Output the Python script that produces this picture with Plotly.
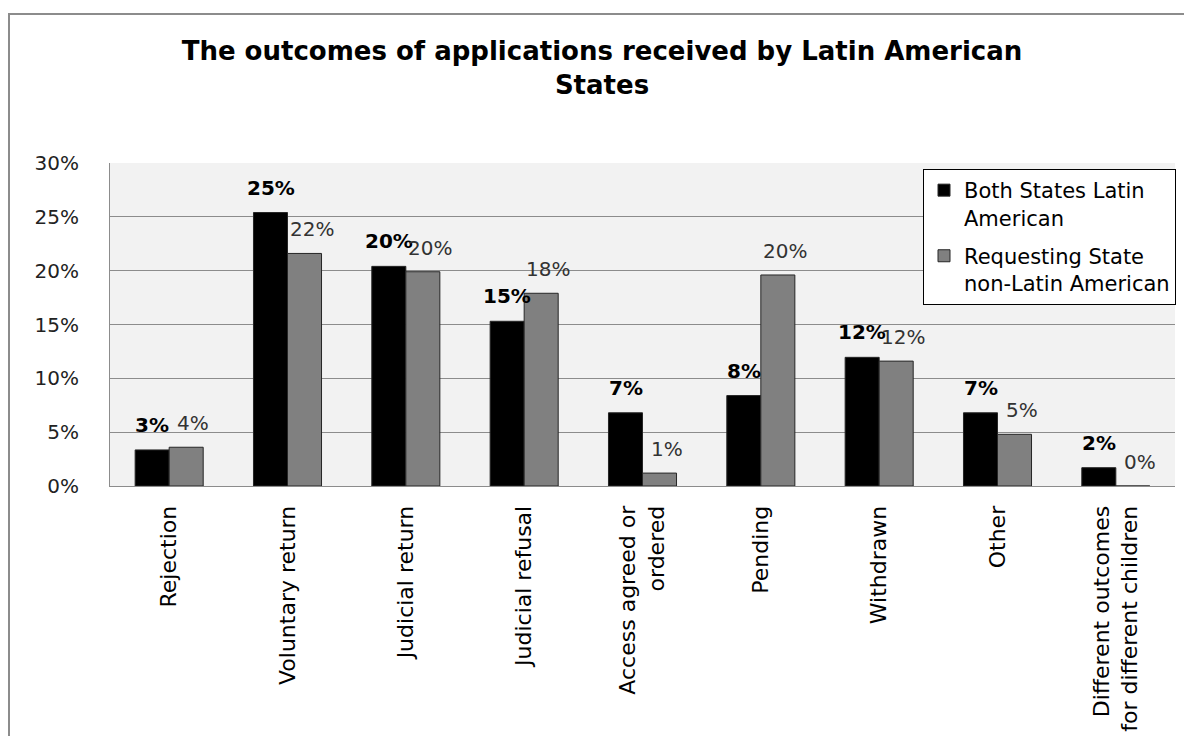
import plotly.graph_objects as go

categories = [
    "Rejection",
    "Voluntary return",
    "Judicial return",
    "Judicial refusal",
    "Access agreed or<br>ordered",
    "Pending",
    "Withdrawn",
    "Other",
    "Different outcomes<br>for different children",
]
both_latin = [3.35, 25.4, 20.4, 15.3, 6.8, 8.4, 11.95, 6.8, 1.7]
requesting_non_latin = [3.6, 21.6, 19.9, 17.9, 1.2, 19.6, 11.6, 4.8, 0.0]
series_names = ["Both States Latin<br>American", "Requesting State<br>non-Latin American"]
y_ticks = [0, 5, 10, 15, 20, 25, 30]
y_tick_labels = ["0%", "5%", "10%", "15%", "20%", "25%", "30%"]
title_text = "The outcomes of applications received by Latin American<br>States"

FONT = "DejaVu Sans"

fig = go.Figure()
fig.add_trace(go.Bar(
    x=categories, y=both_latin, name=series_names[0], legendgroup="a",
    marker=dict(color="#000000", line=dict(color="#262626", width=1)),
))
fig.add_trace(go.Bar(
    x=categories, y=requesting_non_latin, name=series_names[1], legendgroup="b",
    marker=dict(color="#808080", line=dict(color="#262626", width=1)),
))

annotations = []
for c, v in zip(categories, both_latin):
    annotations.append(dict(
        x=c, y=v, xref="x", yref="y", text=f"<b>{round(v)}%</b>",
        showarrow=False, xshift=-17, yshift=25, yanchor="middle",
        font=dict(family=FONT, size=20, color="#000000"),
    ))
for c, v in zip(categories, requesting_non_latin):
    annotations.append(dict(
        x=c, y=v, xref="x", yref="y", text=f"{round(v)}%",
        showarrow=False, xshift=24, yshift=24, yanchor="middle",
        font=dict(family=FONT, size=20, color="#333333"),
    ))

L, R, T, B = 110, 1175, 163, 486
W, H = R - L, B - T
def px_x(p):
    return (p - L) / W
def px_y(p):
    return (B - p) / H

fig.update_layout(
    width=1184, height=736,
    margin=dict(l=L, r=1184 - R, t=T, b=736 - B, pad=0, autoexpand=False),
    paper_bgcolor="#ffffff",
    plot_bgcolor="#f2f2f2",
    barmode="group",
    bargap=0.425,
    bargroupgap=0,
    title=dict(
        text=f"<b>{title_text}</b>",
        x=602 / 1184, xanchor="center",
        y=1 - 60 / 736, yanchor="top", yref="container",
        font=dict(family=FONT, size=26, color="#000000"),
    ),
    xaxis=dict(
        tickangle=-90,
        automargin=False,
        tickfont=dict(family=FONT, size=22, color="#000000"),
        showline=True, linecolor="#8c8c8c", linewidth=1,
        ticks="outside", ticklen=10, tickcolor="rgba(0,0,0,0)",
        showgrid=False,
    ),
    yaxis=dict(
        range=[0, 30],
        automargin=False,
        tickvals=y_ticks, ticktext=y_tick_labels,
        tickfont=dict(family=FONT, size=20, color="#222222"),
        showgrid=True, gridcolor="#8c8c8c", gridwidth=1,
        showline=True, linecolor="#8c8c8c", linewidth=1,
        ticks="outside", ticklen=26, tickcolor="rgba(0,0,0,0)",
        zeroline=False,
    ),
    legend=dict(
        x=px_x(923), y=px_y(169), xanchor="left", yanchor="top",
        bgcolor="#ffffff", bordercolor="#000000", borderwidth=1,
        font=dict(family=FONT, size=21, color="#000000"),
        valign="top", itemwidth=30,
        traceorder="grouped", tracegroupgap=8,
    ),
    annotations=annotations,
    shapes=[dict(
        type="rect", xref="paper", yref="paper",
        x0=px_x(9), x1=px_x(1195), y0=px_y(750), y1=px_y(14),
        line=dict(color="#8c8c8c", width=2), fillcolor="rgba(0,0,0,0)",
        layer="below",
    )],
    showlegend=True,
)

fig.write_html("out.html")
